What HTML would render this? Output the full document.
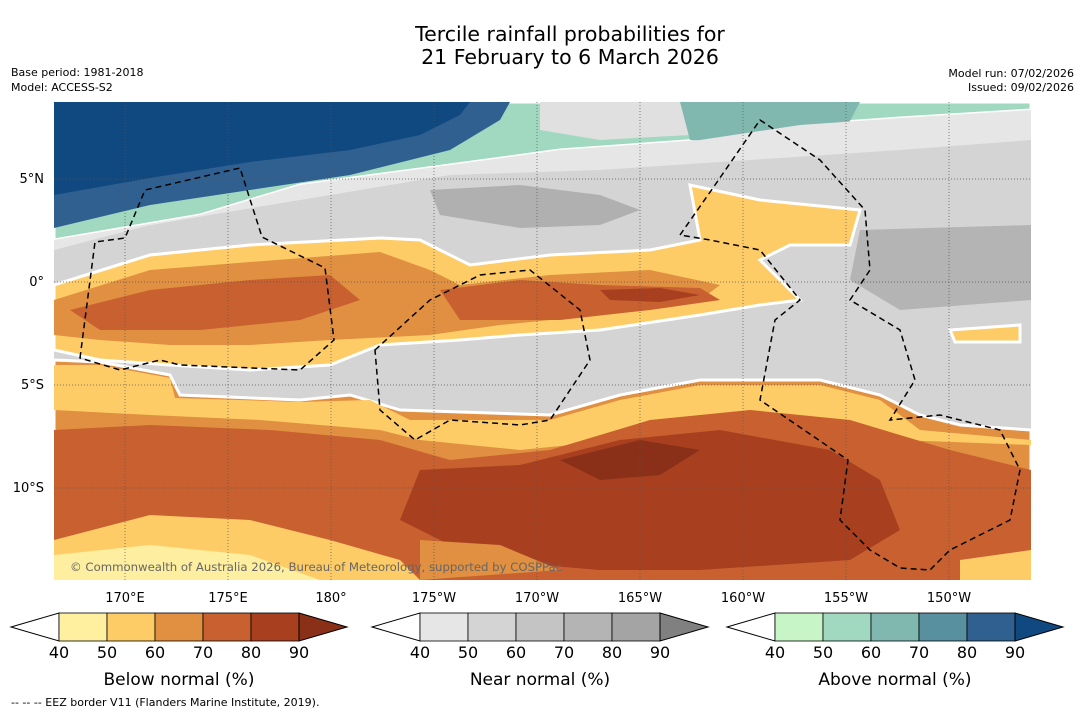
<!DOCTYPE html>
<html><head><meta charset="utf-8"><style>
body{margin:0;background:#fff;width:1085px;height:713px;overflow:hidden;font-family:"DejaVu Sans","Liberation Sans",sans-serif}
svg{position:absolute;left:0;top:0}
</style></head><body>
<svg width="1085" height="713" viewBox="0 0 1085 713">
<text x="570" y="41" font-size="20.5" text-anchor="middle">Tercile rainfall probabilities for</text>
<text x="570" y="64" font-size="20.5" text-anchor="middle">21 February to 6 March 2026</text>
<text x="11" y="76" font-size="11">Base period: 1981-2018</text>
<text x="11" y="91" font-size="11">Model: ACCESS-S2</text>
<text x="1074" y="77" font-size="11" text-anchor="end">Model run: 07/02/2026</text>
<text x="1074" y="91" font-size="11" text-anchor="end">Issued: 09/02/2026</text>
<defs><clipPath id="mc"><rect x="54" y="102" width="977" height="478"/></clipPath></defs>
<g clip-path="url(#mc)">
<rect x="54" y="102" width="977" height="478" fill="#d4d4d4"/>
<path d="M54,102H1031V110L900,118L800,125L700,140L560,150L450,165L300,185L200,215L54,240Z" fill="#a0d8c0" stroke="#fff" stroke-width="3"/>
<path d="M540,102H700L690,135L600,140L540,130Z" fill="#e0e0e0"/>
<path d="M680,102H860L840,140L760,145L690,140Z" fill="#80b8b0"/>
<path d="M54,102H510L500,120L450,150L350,175L250,190L150,205L54,228Z" fill="#306090"/>
<path d="M54,102H470L460,115L420,135L350,150L250,162L150,178L54,195Z" fill="#104880"/>
<path d="M54,240L200,215L300,185L450,165L560,150L700,140L800,125L900,118L1031,110V140L900,150L750,160L600,170L450,175L300,200L150,225L54,250Z" fill="#e6e6e6"/>
<path d="M430,190L520,185L600,195L640,210L600,225L520,228L440,215Z" fill="#b0b0b0"/>
<path d="M860,230L1031,225V300L900,310L850,280Z" fill="#b4b4b4"/>
<path d="M54,285L150,255L250,245L380,238L420,240L470,265L550,255L650,250L700,240L690,185L760,200L860,210L850,245L790,245L760,260L800,300L760,305L700,315L600,330L520,335L460,340L380,345L330,365L250,370L170,365L100,360L54,350Z" fill="#fecc66" stroke="#fff" stroke-width="3"/>
<path d="M54,300L150,270L250,262L380,252L430,270L460,285L550,275L650,270L720,285L700,300L600,315L500,325L430,335L330,340L250,345L170,345L100,340L54,335Z" fill="#e09040"/>
<path d="M70,310L150,290L250,280L330,275L360,300L300,320L200,330L100,330Z" fill="#c86030"/>
<path d="M440,290L520,280L600,285L700,288L720,300L650,310L560,320L460,320Z" fill="#c86030"/>
<path d="M600,290L660,288L700,295L660,302L610,300Z" fill="#a84020"/>
<path d="M950,330L1020,325L1020,342L955,342Z" fill="#fecc66" stroke="#fff" stroke-width="3"/>
<path d="M54,360L100,362L170,375L180,395L300,400L350,395L400,410L550,415L620,395L700,380L760,380L820,380L880,395L920,415L960,425L1031,430V580H54Z" fill="#e09040" stroke="#fff" stroke-width="3"/>
<path d="M54,365L100,365L170,378L175,398L300,402L370,400L410,420L550,420L620,400L700,385L820,385L880,400L920,430L1031,440V445L900,440L830,420L720,420L620,440L520,450L420,440L380,430L260,420L150,415L54,410Z" fill="#fecc66"/>
<path d="M54,430L150,425L270,430L380,440L450,460L550,450L650,420L750,410L850,420L950,450L1031,470V580H54Z" fill="#c86030"/>
<path d="M420,470L520,465L620,440L720,430L830,450L880,480L900,530L850,560L700,570L600,570L480,560L400,520Z" fill="#a84020"/>
<path d="M560,460L640,440L700,450L660,475L600,480Z" fill="#8a3018"/>
<path d="M54,540L150,515L250,520L330,540L400,560L420,580H54Z" fill="#fecc66"/>
<path d="M54,555L150,545L250,555L320,580H54Z" fill="#fdeea0"/>
<path d="M420,540L500,545L560,570L420,580Z" fill="#e09040"/>
<path d="M960,560L1031,550V580H960Z" fill="#fecc66"/>
<g stroke="#555" stroke-width="0.7" stroke-dasharray="1,2" fill="none">
<path d="M125,102V580M228,102V580M331,102V580M434,102V580M537,102V580M640,102V580M743,102V580M846,102V580M949,102V580"/>
<path d="M54,179H1031M54,282H1031M54,385H1031M54,488H1031"/>
</g>
<g stroke="#000" stroke-width="1.5" stroke-dasharray="6,4" fill="none">
<path d="M80,358L95,242L125,238L145,190L240,168L262,237L325,268L334,340L300,370L180,365L160,360L120,370Z"/>
<path d="M375,350L430,300L480,275L530,270L580,310L590,360L570,390L550,420L520,425L450,420L415,440L380,410Z"/>
<path d="M680,235L715,185L760,120L820,160L865,210L870,270L850,300L900,330L915,380L890,420L940,415L1000,430L1020,470L1010,520L950,550L930,570L900,568L870,550L840,520L848,460L760,400L775,320L800,300L760,250L710,240Z"/>
</g>
<text x="70" y="571" font-size="11.7" fill="#666">© Commonwealth of Australia 2026, Bureau of Meteorology, supported by COSPPac</text>
</g>
<g font-size="13">
<text x="44" y="183" text-anchor="end">5°N</text><text x="44" y="286" text-anchor="end">0°</text>
<text x="44" y="389" text-anchor="end">5°S</text><text x="44" y="492" text-anchor="end">10°S</text>
</g>
<g font-size="13" text-anchor="middle" id="lonlabels"></g>
<g id="bars"></g>
<text x="11" y="706" font-size="11">-- -- -- EEZ border V11 (Flanders Marine Institute, 2019).</text>
</svg>
<script>
const lonLabels=["170°E","175°E","180°","175°W","170°W","165°W","160°W","155°W","150°W"];
const ticks=["40","50","60","70","80","90"];
const barTitles=["Below normal (%)","Near normal (%)","Above normal (%)"];
const barColors=[["#fff0a0","#fecc66","#e09040","#c86030","#a84020","#8a3018"],["#e6e6e6","#d4d4d4","#c4c4c4","#b4b4b4","#a4a4a4","#808080"],["#c8f5c8","#a0d8c0","#80b8b0","#5890a0","#306090","#104880"]];
const NS="http://www.w3.org/2000/svg";
const ll=document.getElementById('lonlabels');
lonLabels.forEach((t,i)=>{const e=document.createElementNS(NS,'text');


e.setAttribute('x',125+i*103);e.setAttribute('y',602);e.textContent=t;ll.appendChild(e);});
const bars=document.getElementById('bars');
const starts=[11,372,727];
starts.forEach((x0,b)=>{
 const g=document.createElementNS(NS,'g');
 
 
 const y0=613,h=28,w=48;
 const lt=document.createElementNS(NS,'path');
 lt.setAttribute('d',`M${x0},${y0+h/2}L${x0+w},${y0}V${y0+h}Z`);lt.setAttribute('fill','#fff');lt.setAttribute('stroke','#000');g.appendChild(lt);
 for(let i=0;i<5;i++){const r=document.createElementNS(NS,'rect');
  
  
  r.setAttribute('x',x0+w+i*w);r.setAttribute('y',y0);r.setAttribute('width',w);r.setAttribute('height',h);
  r.setAttribute('fill',barColors[b][i]);r.setAttribute('stroke','#000');r.setAttribute('stroke-width','0.8');g.appendChild(r);}
 const rt=document.createElementNS(NS,'path');
 rt.setAttribute('d',`M${x0+6*w},${y0}L${x0+7*w},${y0+h/2}L${x0+6*w},${y0+h}Z`);rt.setAttribute('fill',barColors[b][5]);rt.setAttribute('stroke','#000');g.appendChild(rt);
 ticks.forEach((t,i)=>{const e=document.createElementNS(NS,'text');
  
  
  e.setAttribute('x',x0+w+i*w);e.setAttribute('y',658);e.setAttribute('font-size','16');e.setAttribute('text-anchor','middle');e.textContent=t;g.appendChild(e);});
 const tt=document.createElementNS(NS,'text');
 
 
 tt.setAttribute('x',x0+3.5*w);tt.setAttribute('y',685);tt.setAttribute('font-size','17');tt.setAttribute('text-anchor','middle');tt.textContent=barTitles[b];g.appendChild(tt);
 bars.appendChild(g);
});
</script>
</body></html>
